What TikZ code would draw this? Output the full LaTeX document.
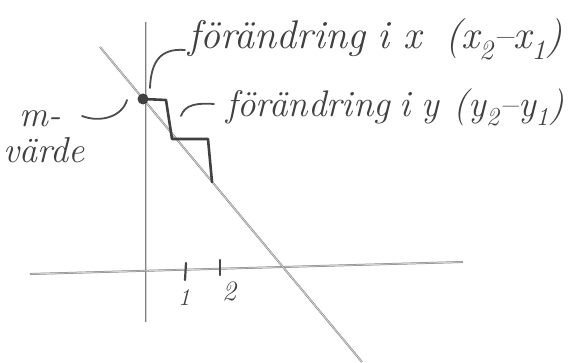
\documentclass[tikz,border=0pt]{standalone}
\usepackage{fontspec}
\begin{document}
\begin{tikzpicture}[x=1pt,y=-1pt,
  axis/.style={draw=black!50,line width=0.5pt,double=black!18,double distance=0.9pt},
  hand/.style={text=black!75,font=\fontsize{40}{42}\selectfont\itshape,inner sep=0pt},
  stairs/.style={draw=black!75,line width=2.6pt,line join=round,line cap=round},
  pointer/.style={draw=black!70,line width=1.8pt,line cap=round},
  tick/.style={draw=black!72,line width=2.2pt,line cap=round}]
\useasboundingbox (0,0) rectangle (579,363);
\coordinate (ytop) at (146,22);
\coordinate (ybot) at (146,322);
\coordinate (xl) at (30,274);
\coordinate (xr) at (463,262);
\coordinate (dtop) at (100,47);
\coordinate (dbot) at (362,362);
\draw[axis] (ytop) -- (ybot);
\draw[axis] (xl) -- (xr);
\draw[axis] (dtop) -- (dbot);
% ticks
\coordinate (t1a) at (186,263); \coordinate (t1b) at (185,280);
\coordinate (t2a) at (220,260); \coordinate (t2b) at (220,275);
\draw[tick] (t1a) -- (t1b);
\draw[tick] (t2a) -- (t2b);
\node[hand,font=\fontsize{24}{26}\selectfont\itshape] (one) at (184,298) {1};
\node[hand,font=\fontsize{28}{30}\selectfont\itshape] (two) at (229,291) {2};
% point and staircase
\node[circle,fill=black!75,minimum size=11pt,inner sep=0pt] (m) at (143,99) {};
\coordinate (s1) at (166,100);
\coordinate (s2) at (172,139);
\coordinate (s3) at (208,139);
\coordinate (s4) at (212,182);
\draw[stairs] (m.center) -- (s1) -- (s2) -- (s3) -- (s4);
% labels
\node[hand,anchor=base west] (lx) at (188,49) {förändring\hspace{0.3em}i\hspace{0.35em}x\hspace{0.6em}(x\textsubscript{2}–x\textsubscript{1})};
\node[hand,font=\fontsize{37}{39}\selectfont\itshape,anchor=base west] (ly) at (226,117) {förändring\hspace{0.25em}i\hspace{0.3em}y\hspace{0.4em}(y\textsubscript{2}–y\textsubscript{1})};
\node[hand,font=\fontsize{36}{38}\selectfont\itshape] (mm) at (40,119) {m-};
\node[hand,font=\fontsize{36}{38}\selectfont\itshape] (mv) at (44,150) {värde};
% pointers
\coordinate (p1a) at (150,88);
\coordinate (p1b) at (185,50);
\draw[pointer] (p1a) .. controls (151,62) and (160,48) .. (p1b);
\coordinate (p2a) at (181,116);
\coordinate (p2b) at (214,104);
\draw[pointer] (p2a) .. controls (185,104) and (198,103) .. (p2b);
\coordinate (p3a) at (82,116);
\coordinate (p3b) at (127,100);
\draw[pointer] (p3a) .. controls (100,123) and (122,117) .. (p3b);
\end{tikzpicture}
\end{document}
